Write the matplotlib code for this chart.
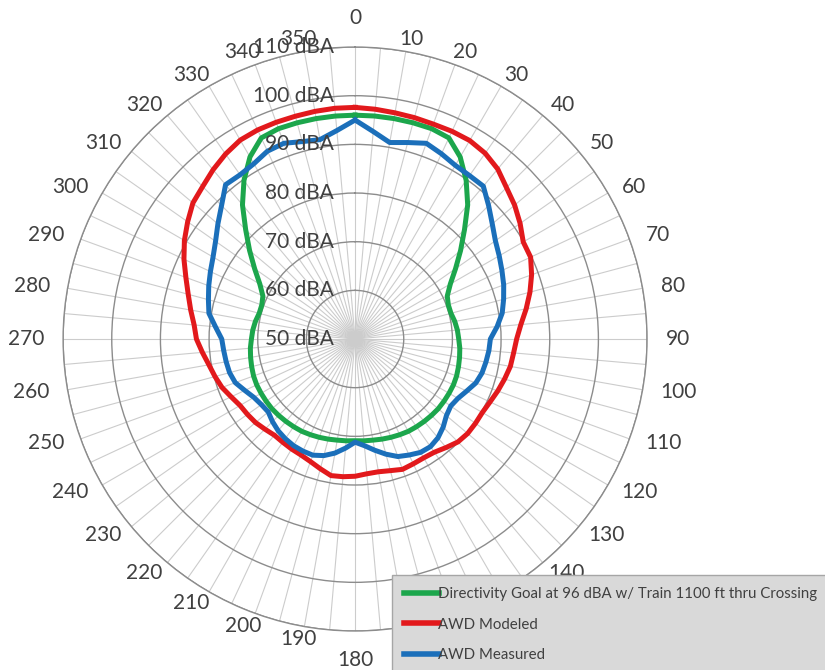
import numpy as np
import matplotlib
matplotlib.use("Agg")
import matplotlib.pyplot as plt

plt.rcParams['font.family'] = ['Lato', 'DejaVu Sans']

# angles every 5 degrees, labelled every 10
angles = list(range(0, 360, 5))
label_angles = list(range(0, 360, 10))
ring_values = [50, 60, 70, 80, 90, 100, 110]
ring_labels = [f'{v} dBA' for v in ring_values]

# directivity goal, 0..180 (mirrored on the other side)
goal_half = [96.0, 96.0, 96.0, 96.0, 96.0, 95.6, 93.2, 89.8, 86.0, 81.8,
             78.3, 75.2, 72.6, 70.9, 70.4, 70.4, 70.8, 71.1, 71.3, 71.6,
             71.8, 72.0, 72.2, 72.3, 72.3, 72.3, 72.3, 72.2, 72.1, 72.0,
             71.9, 71.7, 71.5, 71.3, 71.1, 71.0, 70.9]
goal = goal_half + goal_half[-2:0:-1]

modeled = [97.6, 97.4, 97.2, 97.1, 97.0, 97.1, 97.1, 96.6, 95.6, 94.0,
           92.8, 91.4, 89.9, 89.8, 88.6, 87.2, 85.7, 84.2, 83.2, 82.7,
           82.4, 81.8, 81.2, 80.6, 80.2, 80.2, 80.2, 79.9, 79.1, 78.4,
           78.2, 78.3, 78.5, 78.0, 77.7, 77.8, 78.2, 78.4, 78.5, 77.6,
           76.8, 76.3, 76.1, 75.9, 75.8, 76.2, 76.7, 77.0, 77.3, 78.1,
           79.1, 79.8, 80.5, 81.5, 82.6, 83.2, 84.3, 85.5, 87.0, 88.8,
           90.5, 92.0, 93.5, 94.3, 95.4, 96.4, 97.2, 97.4, 97.4, 97.4,
           97.5, 97.6]

measured = [95.0, 92.8, 91.0, 91.8, 92.8, 92.0, 91.2, 91.0, 91.0, 88.8,
            86.8, 85.2, 84.2, 83.3, 82.5, 81.6, 80.7, 79.3, 77.8, 77.6,
            77.3, 77.0, 76.4, 75.3, 74.4, 74.0, 74.5, 75.6, 76.5, 77.0,
            76.9, 76.3, 75.7, 74.5, 73.2, 72.0, 71.2, 72.5, 73.8, 74.8,
            75.4, 75.4, 75.3, 75.0, 74.6, 74.0, 73.3, 73.5, 74.0, 75.0,
            76.2, 76.7, 76.9, 77.1, 77.4, 78.8, 80.5, 81.2, 82.0, 82.8,
            83.7, 85.0, 86.8, 88.8, 91.4, 91.2, 91.6, 92.6, 92.8, 92.0,
            91.6, 93.0]

series = [
    ('Directivity Goal at 96 dBA w/ Train 1100 ft thru Crossing', goal, '#1ca64c'),
    ('AWD Modeled', modeled, '#e2191c'),
    ('AWD Measured', measured, '#1b6fba'),
]

fig = plt.figure(figsize=(8.25, 6.7), dpi=100)
ax = fig.add_axes([0.0764, 0.0582, 0.708, 0.8716], projection='polar')
ax.set_theta_zero_location('N')
ax.set_theta_direction(-1)
ax.set_ylim(50, 110)

theta = np.deg2rad(angles + [angles[0]])
for name, vals, col in series:
    ax.plot(theta, vals + [vals[0]], color=col, lw=3.6, label=name,
            solid_joinstyle='round', zorder=3)

ax.set_xticks(np.deg2rad(angles))
ax.set_xticklabels([])
ax.xaxis.grid(True, color='#cccccc', lw=0.8)
ax.set_yticks(ring_values[1:])
ax.set_yticklabels([])
ax.yaxis.grid(True, color='#8c8c8c', lw=1.0)
ax.spines['polar'].set_color('#8c8c8c')
ax.spines['polar'].set_linewidth(1.0)

# category labels placed like Excel does: box edge anchored outside the ring
pt = 72 / 100
for a in label_angles:
    s, c = np.sin(np.deg2rad(a)), np.cos(np.deg2rad(a))
    half_w = 5.8 * len(str(a))
    rx = 311 + half_w
    ry = 321 if a in (0, 180) else 305
    ax.annotate(str(a), xy=(0, 50), xytext=(rx * s * pt, ry * c * pt),
                textcoords='offset points', ha='center', va='center',
                fontsize=15, color='#404040', annotation_clip=False)

for v, lab in zip(ring_values, ring_labels):
    ax.annotate(lab, xy=(0, v), xytext=(-15, 0), textcoords='offset points',
                ha='right', va='center', fontsize=15, color='#404040',
                zorder=4)

leg = ax.legend(loc='lower left', bbox_to_anchor=(392 / 825, -0.006),
                bbox_transform=fig.transFigure, fontsize=10.8, frameon=True,
                fancybox=False, facecolor='#d9d9d9', edgecolor='#a6a6a6',
                framealpha=1, handlelength=2.3, handletextpad=0.0,
                labelspacing=1.1, borderaxespad=0, borderpad=0.8)
leg.set_zorder(10)
leg.get_frame().set_linewidth(1.0)
for t in leg.get_texts():
    t.set_color('#404040')
for h in leg.get_lines():
    h.set_linewidth(4)

fig.savefig('out.png', dpi=100, facecolor='white')
